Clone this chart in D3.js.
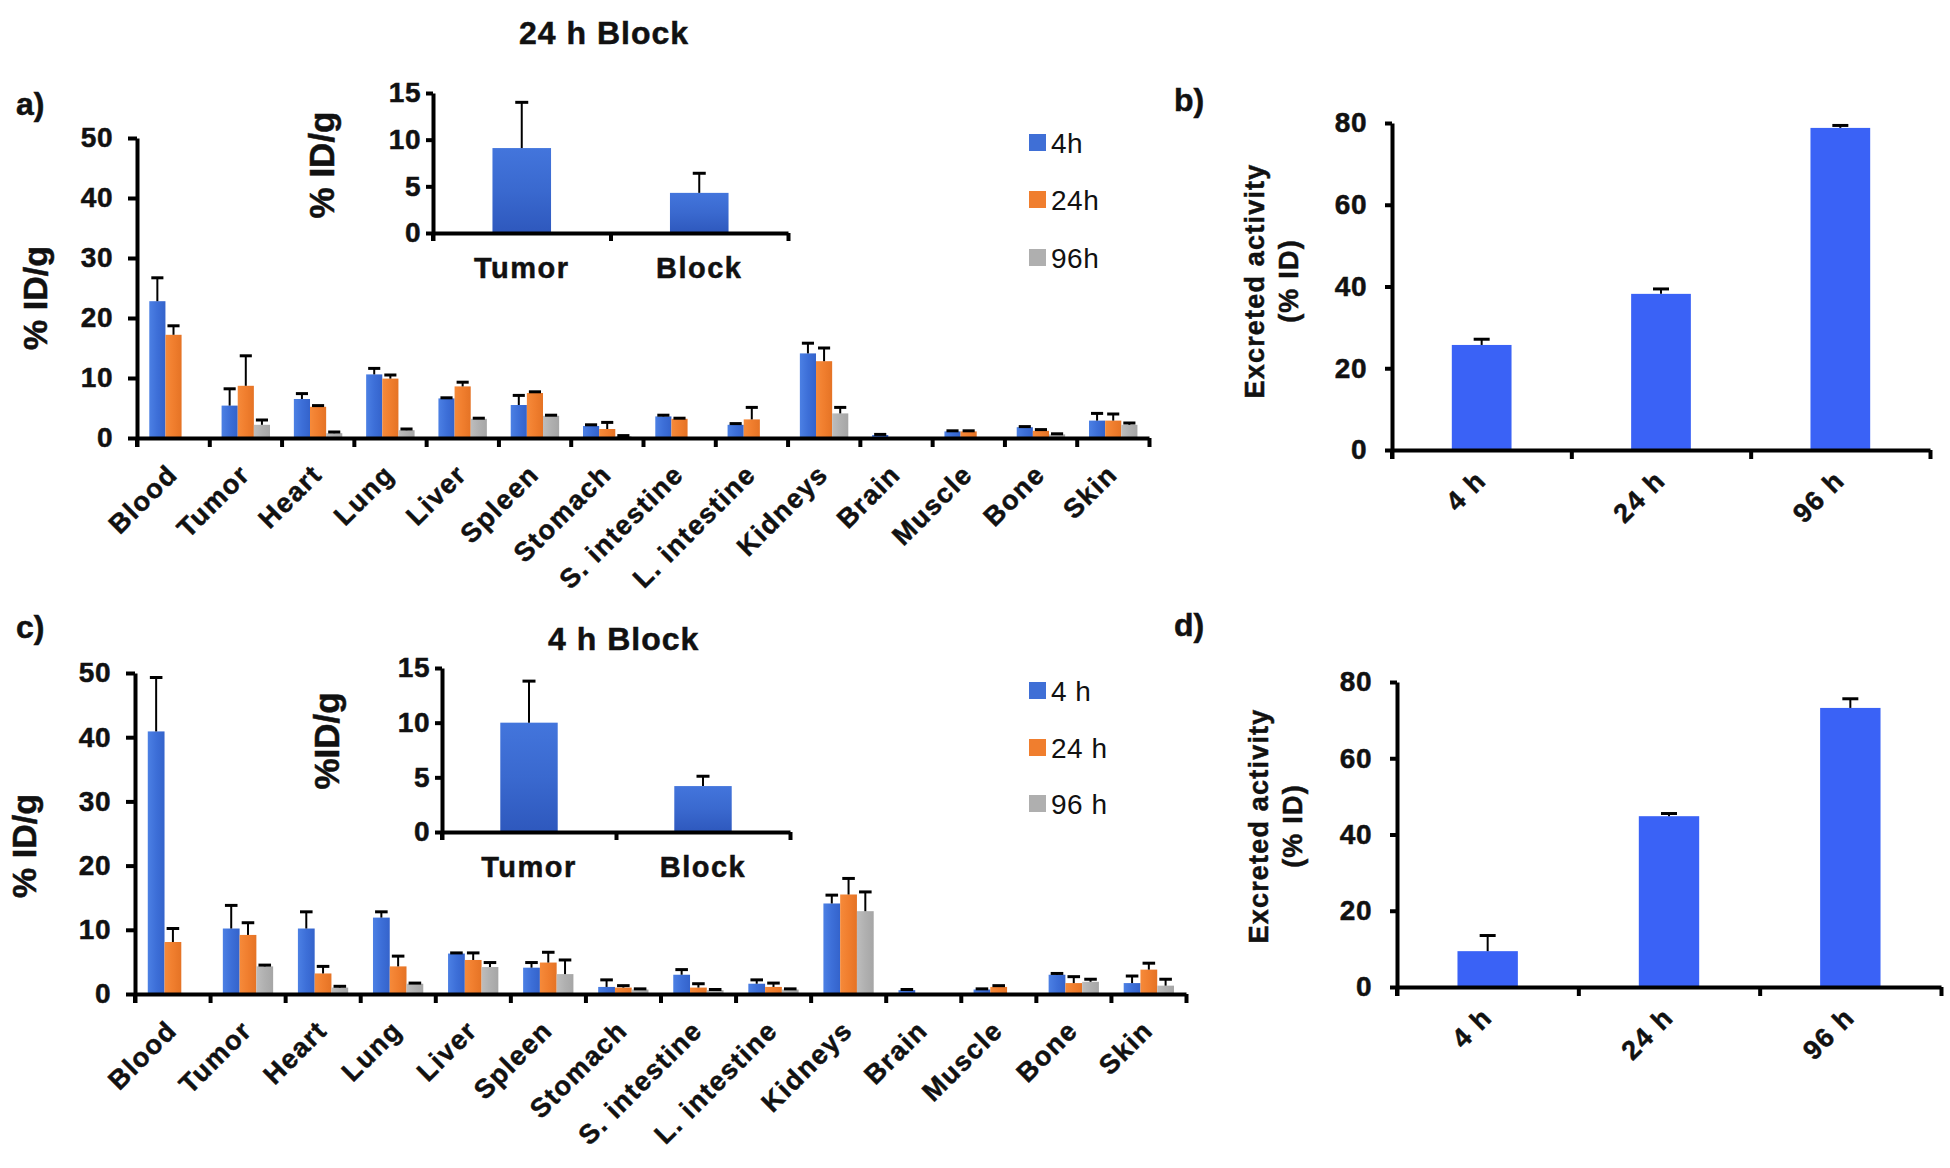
<!DOCTYPE html>
<html><head><meta charset="utf-8">
<script src="https://cdn.jsdelivr.net/npm/d3@7"></script>
<style>
body{margin:0;background:#fff;}
svg{display:block;}
text{font-family:"Liberation Sans",Arial,Helvetica,sans-serif;fill:#111;}
text.b{stroke:#111;stroke-width:0.5px;}
</style></head><body>
<svg id="chart" width="1950" height="1168"></svg>
<script>
// ---------------- DATA ----------------
const organs = ["Blood","Tumor","Heart","Lung","Liver","Spleen","Stomach","S. intestine","L. intestine","Kidneys","Brain","Muscle","Bone","Skin"];
const yTicksMain = [0,10,20,30,40,50];
const yTicksInset = [0,5,10,15];
const yTicksExcr = [0,20,40,60,80];

// panel a (24 h Block)
const seriesA = ["4h","24h","96h"];
const a4h     = [22.8, 5.4, 6.5,10.6, 6.6, 5.5, 2.0, 3.6, 2.2,14.1, 0.5, 1.1, 1.8, 2.9];
const a4hErr  = [ 3.9, 2.8, 0.9, 1.0, 0.1, 1.6, 0.2, 0.2, 0.2, 1.7, 0.1, 0.1, 0.1, 1.2];
const a24h    = [17.2, 8.7, 5.2, 9.9, 8.6, 7.5, 1.5, 3.2, 3.1,12.8, 0.0, 1.1, 1.2, 2.9];
const a24hErr = [ 1.5, 5.0, 0.2, 0.6, 0.7, 0.2, 1.1, 0.1, 2.0, 2.2, 0.0, 0.1, 0.2, 1.1];
const a96h    = [ 0.0, 2.2, 0.8, 1.3, 3.2, 3.7, 0.3, 0.0, 0.0, 4.1, 0.0, 0.0, 0.6, 2.2];
const a96hErr = [ 0.0, 0.8, 0.2, 0.2, 0.1, 0.1, 0.1, 0.0, 0.0, 1.0, 0.0, 0.0, 0.1, 0.3];
const insetCats = ["Tumor","Block"];
const insetA    = [9.1, 4.3];
const insetAErr = [4.9, 2.1];

// panel b (excreted activity)
const excrCats = ["4 h","24 h","96 h"];
const bVals = [25.7, 38.2, 78.8];
const bErr  = [ 1.4,  1.2,  0.6];

// panel c (4 h Block)
const seriesC = ["4 h","24 h","96 h"];
const c4h     = [40.9,10.2,10.2,11.9, 6.3, 4.1, 1.1, 3.0, 1.6,14.1, 0.6, 0.7, 3.0, 1.7];
const c4hErr  = [ 8.4, 3.6, 2.6, 0.9, 0.1, 0.8, 1.1, 0.8, 0.6, 1.3, 0.1, 0.1, 0.2, 1.1];
const c24h    = [ 8.1, 9.2, 3.2, 4.3, 5.3, 4.9, 1.0, 1.0, 1.1,15.5, 0.0, 1.1, 1.7, 3.8];
const c24hErr = [ 2.1, 1.9, 1.1, 1.6, 1.1, 1.6, 0.3, 0.6, 0.6, 2.5, 0.0, 0.2, 1.0, 1.0];
const c96h    = [ 0.0, 4.3, 1.0, 1.6, 4.2, 3.1, 0.7, 0.6, 0.7,12.9, 0.0, 0.0, 1.9, 1.3];
const c96hErr = [ 0.0, 0.2, 0.2, 0.1, 0.7, 2.2, 0.1, 0.1, 0.1, 3.0, 0.0, 0.0, 0.4, 1.0];
const insetC    = [10.0, 4.2];
const insetCErr = [ 3.8, 0.9];

// panel d
const dVals = [ 9.4, 44.8, 73.2];
const dErr  = [ 4.1,  0.7,  2.4];

// ---------------- DRAWING ----------------
const svg = d3.select("#chart");
const defs = svg.append("defs");
function grad(id, stops, vertical){
  const g = defs.append("linearGradient").attr("id",id)
    .attr("x1","0").attr("y1","0").attr("x2",vertical?"0":"1").attr("y2",vertical?"1":"0");
  stops.forEach((c,i)=>g.append("stop").attr("offset",(i/(stops.length-1)*100)+"%").attr("stop-color",c));
}
grad("gBlue",["#4C80E4","#3D6FD8","#3463CB"]);
grad("gOrange",["#F68A3A","#F07E2E","#E57325"]);
grad("gGray",["#BDBDBD","#B0B0B0","#A6A6A6"]);
grad("gInset",["#4375DC","#3A69CF","#2E58BD"], true);
const seriesFill = ["url(#gBlue)","url(#gOrange)","url(#gGray)"];
const legendFill = ["#3F6FD6","#F07E2E","#AFAFAF"];
const AX = 4;

function styleAxis(sel){
  sel.select(".domain").attr("stroke","#000").attr("stroke-width",AX);
  sel.selectAll(".tick line").attr("stroke","#000").attr("stroke-width",AX);
}
function numText(sel, size){
  sel.attr("font-size",size).attr("font-weight","bold").attr("class","b").attr("letter-spacing",0.5);
}

function errorBar(g, cx, yTop, yErr, capW, lw){
  g.append("line").attr("x1",cx).attr("x2",cx).attr("y1",yTop).attr("y2",yErr)
    .attr("stroke","#000").attr("stroke-width",lw);
  g.append("line").attr("x1",cx-capW/2).attr("x2",cx+capW/2).attr("y1",yErr).attr("y2",yErr)
    .attr("stroke","#000").attr("stroke-width",3);
}

function grouped(cfg){
  const g = svg.append("g");
  const y = d3.scaleLinear().domain([0,50]).range([cfg.yb, cfg.yt]);
  const xb = d3.scaleBand().domain(organs).range([cfg.xl, cfg.xr]).padding(0);
  const bw = xb.bandwidth();
  const xs = d3.scaleBand().domain([0,1,2]).range([bw*0.17, bw*0.84]).padding(0);
  cfg.series.forEach((s, si)=>{
    organs.forEach((o, i)=>{
      const v = s.vals[i], e = s.err[i];
      if (v <= 0) return;
      const x = xb(o) + xs(si);
      g.append("rect").attr("x",x).attr("y",y(v)).attr("width",xs.bandwidth()).attr("height",y(0)-y(v))
        .attr("fill",seriesFill[si]);
      if (e > 0) errorBar(g, x + xs.bandwidth()/2, y(v), y(v+e), xs.bandwidth()*0.75, 2);
    });
  });
  const ya = g.append("g").attr("transform",`translate(${cfg.xl},0)`)
    .call(d3.axisLeft(y).tickValues(yTicksMain).tickSize(9).tickSizeOuter(0).tickPadding(15));
  styleAxis(ya);
  numText(ya.selectAll(".tick text"), 28);
  g.append("line").attr("x1",cfg.xl).attr("x2",cfg.xl).attr("y1",cfg.yb).attr("y2",cfg.yb+9).attr("stroke","#000").attr("stroke-width",AX);
  const xl = d3.scaleLinear().domain([0, organs.length]).range([cfg.xl, cfg.xr]);
  const xa = g.append("g").attr("transform",`translate(0,${cfg.yb})`)
    .call(d3.axisBottom(xl).tickValues(d3.range(organs.length+1)).tickFormat("").tickSize(9).tickSizeOuter(0));
  styleAxis(xa);
  const lab = g.append("g").attr("transform",`translate(0,${cfg.yb})`)
    .call(d3.axisBottom(xb).tickSize(0).tickPadding(0));
  lab.select(".domain").remove();
  lab.selectAll(".tick text")
    .attr("font-size",27).attr("font-weight","bold").attr("letter-spacing",1.5).attr("class","b")
    .attr("text-anchor","end").attr("dy",0)
    .attr("transform","translate(6,38) rotate(-45)");
  g.append("text").attr("transform",`translate(${cfg.ytx},${cfg.yty}) rotate(-90)`)
    .attr("text-anchor","middle").attr("dominant-baseline","middle").attr("class","b")
    .attr("font-size",34).attr("font-weight","bold").text("% ID/g");
  cfg.series.forEach((s, si)=>{
    const ly = cfg.legY[si];
    g.append("rect").attr("x",cfg.legX).attr("y",ly-9).attr("width",17).attr("height",17).attr("fill",legendFill[si]);
    g.append("text").attr("x",cfg.legX+22).attr("y",ly).attr("dominant-baseline","central")
      .attr("font-size",28).attr("letter-spacing",0.5).text(s.name);
  });
}

function inset(cfg){
  const g = svg.append("g");
  const y = d3.scaleLinear().domain([0,15]).range([cfg.yb, cfg.yt]);
  const xb = d3.scaleBand().domain(insetCats).range([cfg.xl, cfg.xr]).padding(0);
  const bw = xb.bandwidth();
  insetCats.forEach((c,i)=>{
    const w = bw*0.33, x = xb(c) + (bw-w)/2;
    g.append("rect").attr("x",x).attr("y",y(cfg.vals[i])).attr("width",w).attr("height",y(0)-y(cfg.vals[i])).attr("fill","url(#gInset)");
    errorBar(g, x+w/2, y(cfg.vals[i]), y(cfg.vals[i]+cfg.err[i]), 13, 2);
  });
  const ya = g.append("g").attr("transform",`translate(${cfg.xl},0)`)
    .call(d3.axisLeft(y).tickValues(yTicksInset).tickSize(7).tickSizeOuter(0).tickPadding(5));
  styleAxis(ya);
  numText(ya.selectAll(".tick text"), 28);
  g.append("line").attr("x1",cfg.xl).attr("x2",cfg.xl).attr("y1",cfg.yb).attr("y2",cfg.yb+8).attr("stroke","#000").attr("stroke-width",AX);
  const xl = d3.scaleLinear().domain([0,2]).range([cfg.xl,cfg.xr]);
  const xa = g.append("g").attr("transform",`translate(0,${cfg.yb})`)
    .call(d3.axisBottom(xl).tickValues([0,1,2]).tickFormat("").tickSize(8).tickSizeOuter(0));
  styleAxis(xa);
  const lab = g.append("g").attr("transform",`translate(0,${cfg.yb})`)
    .call(d3.axisBottom(xb).tickSize(0).tickPadding(0));
  lab.select(".domain").remove();
  lab.selectAll(".tick text").attr("font-size",29).attr("font-weight","bold").attr("letter-spacing",1.5).attr("class","b")
    .attr("dy",0).attr("y",45);
  g.append("text").attr("transform",`translate(${cfg.ytx},${cfg.yty}) rotate(-90)`)
    .attr("text-anchor","middle").attr("dominant-baseline","middle").attr("class","b")
    .attr("font-size",35).attr("font-weight","bold").text(cfg.ylabel);
}

function simple(cfg){
  const g = svg.append("g");
  const y = d3.scaleLinear().domain([0,80]).range([cfg.yb, cfg.yt]);
  const xb = d3.scaleBand().domain(excrCats).range([cfg.xl, cfg.xr]).padding(0);
  const bw = xb.bandwidth();
  excrCats.forEach((c,i)=>{
    const w = bw*0.333, x = xb(c) + (bw-w)/2;
    g.append("rect").attr("x",x).attr("y",y(cfg.vals[i])).attr("width",w).attr("height",y(0)-y(cfg.vals[i])).attr("fill","#3A62F6");
    errorBar(g, x+w/2, y(cfg.vals[i]), y(cfg.vals[i]+cfg.err[i]), 16, 2);
  });
  const ya = g.append("g").attr("transform",`translate(${cfg.xl},0)`)
    .call(d3.axisLeft(y).tickValues(yTicksExcr).tickSize(7).tickSizeOuter(0).tickPadding(18));
  styleAxis(ya);
  numText(ya.selectAll(".tick text"), 28);
  g.append("line").attr("x1",cfg.xl).attr("x2",cfg.xl).attr("y1",cfg.yb).attr("y2",cfg.yb+9).attr("stroke","#000").attr("stroke-width",AX);
  const xl = d3.scaleLinear().domain([0,3]).range([cfg.xl,cfg.xr]);
  const xa = g.append("g").attr("transform",`translate(0,${cfg.yb})`)
    .call(d3.axisBottom(xl).tickValues([0,1,2,3]).tickFormat("").tickSize(9).tickSizeOuter(0));
  styleAxis(xa);
  const lab = g.append("g").attr("transform",`translate(0,${cfg.yb})`)
    .call(d3.axisBottom(xb).tickSize(0).tickPadding(0));
  lab.select(".domain").remove();
  lab.selectAll(".tick text").attr("font-size",27).attr("font-weight","bold").attr("letter-spacing",1.5).attr("class","b")
    .attr("text-anchor","end").attr("dy",0).attr("transform","translate(6,32) rotate(-45)");
  const t = g.append("text").attr("transform",`translate(${cfg.ytx},${cfg.yty}) rotate(-90)`)
    .attr("text-anchor","middle").attr("font-size",27).attr("font-weight","bold").attr("letter-spacing",1.2).attr("class","b");
  t.append("tspan").attr("x",0).attr("dy",0).text("Excreted activity");
  t.append("tspan").attr("x",0).attr("dy",34).text("(% ID)");
}

function label(txt, x, y, size, ls){
  svg.append("text").attr("x",x).attr("y",y).attr("dominant-baseline","central").attr("class","b")
    .attr("font-size",size).attr("font-weight","bold").attr("letter-spacing",ls).text(txt);
}

// ---- panel a ----
grouped({xl:137, xr:1149, yb:438, yt:138, ytx:38, yty:298,
  legX:1029, legY:[143,200,258],
  series:[{name:seriesA[0],vals:a4h,err:a4hErr},{name:seriesA[1],vals:a24h,err:a24hErr},{name:seriesA[2],vals:a96h,err:a96hErr}]});
inset({xl:433, xr:788, yb:233, yt:93, vals:insetA, err:insetAErr, ytx:325, yty:165, ylabel:"% ID/g"});
label("24 h Block", 519, 33, 32, 1);
label("a)", 16, 104, 32, 0);

// ---- panel b ----
simple({xl:1392, xr:1930, yb:450, yt:123, vals:bVals, err:bErr, ytx:1264, yty:281});
label("b)", 1174, 100, 32, 0);

// ---- panel c ----
grouped({xl:135, xr:1186, yb:994, yt:673, ytx:27, yty:846,
  legX:1029, legY:[691,748,804],
  series:[{name:seriesC[0],vals:c4h,err:c4hErr},{name:seriesC[1],vals:c24h,err:c24hErr},{name:seriesC[2],vals:c96h,err:c96hErr}]});
inset({xl:442, xr:790, yb:832, yt:668, vals:insetC, err:insetCErr, ytx:330, yty:741, ylabel:"%ID/g"});
label("4 h Block", 548, 639, 32, 1);
label("c)", 16, 627, 32, 0);

// ---- panel d ----
simple({xl:1397, xr:1941, yb:987, yt:682, vals:dVals, err:dErr, ytx:1268, yty:826});
label("d)", 1174, 625, 32, 0);
</script>
</body></html>
